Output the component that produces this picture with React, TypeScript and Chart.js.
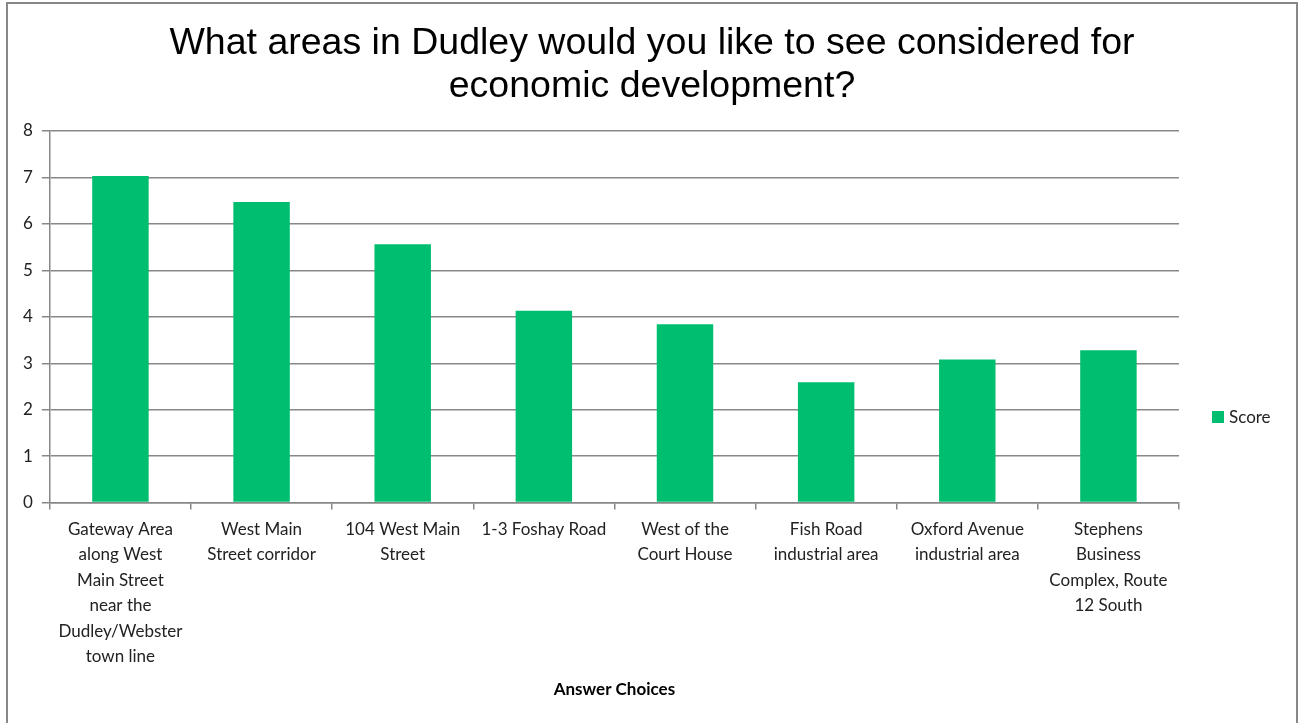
import React, { useEffect, useRef } from "react";
import { Chart, registerables } from "chart.js";

Chart.register(...registerables);

const titleLines = [
  "What areas in Dudley would you like to see considered for",
  "economic development?",
];
const categories: string[][] = [
  ["Gateway Area", "along West", "Main Street", "near the", "Dudley/Webster", "town line"],
  ["West Main", "Street corridor"],
  ["104 West Main", "Street"],
  ["1-3 Foshay Road"],
  ["West of the", "Court House"],
  ["Fish Road", "industrial area"],
  ["Oxford Avenue", "industrial area"],
  ["Stephens", "Business", "Complex, Route", "12 South"],
];
const seriesName = "Score";
const scores = [7.03, 6.47, 5.56, 4.13, 3.84, 2.59, 3.08, 3.28];
const xAxisTitle = "Answer Choices";
const yMin = 0;
const yMax = 8;
const yStep = 1;

const barColor = "#00BE6F";
const gridColor = "#888888";
const titleFont = "'Liberation Sans', Arial, sans-serif";
const labelFont = "Lato, 'Liberation Sans', sans-serif";

const frameAndTitle = {
  id: "frameAndTitle",
  beforeDraw(chart: any) {
    const ctx = chart.ctx;
    ctx.save();
    ctx.fillStyle = "#ffffff";
    ctx.fillRect(0, 0, chart.width, chart.height);
    ctx.strokeStyle = "#878787";
    ctx.lineWidth = 2;
    ctx.strokeRect(7, 3, chart.width - 9, chart.height + 20);
    ctx.restore();
  },
  afterDraw(chart: any) {
    const ctx = chart.ctx;
    ctx.save();
    ctx.fillStyle = "#000000";
    ctx.font = "37.5px " + titleFont;
    ctx.textAlign = "center";
    ctx.textBaseline = "alphabetic";
    ctx.fillText(titleLines[0], 652, 54);
    ctx.fillText(titleLines[1], 652, 97);
    // legend
    const area = chart.chartArea;
    const x = area.right + 33;
    const y = 417;
    ctx.fillStyle = barColor;
    ctx.fillRect(x, y - 6, 12, 12);
    ctx.fillStyle = "#222222";
    ctx.font = "17px " + labelFont;
    ctx.textBaseline = "middle";
    ctx.textAlign = "left";
    ctx.fillText(seriesName, x + 17, y + 1);
    ctx.restore();
  },
};

export default function App() {
  const ref = useRef<HTMLCanvasElement | null>(null);
  useEffect(() => {
    if (!ref.current) return;
    const chart = new Chart(ref.current, {
      type: "bar",
      data: {
        labels: categories,
        datasets: [
          {
            label: seriesName,
            data: scores,
            backgroundColor: barColor,
            borderWidth: 0,
            barPercentage: 0.4,
            categoryPercentage: 1,
          },
        ],
      },
      options: {
        animation: false,
        responsive: false,
        devicePixelRatio: 1,
        layout: { padding: { left: 14, right: 120, top: 131, bottom: 23 } },
        plugins: {
          legend: { display: false },
          tooltip: { enabled: false },
          title: { display: false },
        },
        scales: {
          x: {
            offset: true,
            grid: {
              offset: true,
              drawOnChartArea: false,
              drawTicks: true,
              tickLength: 7,
              color: gridColor,
              lineWidth: 1.5,
            },
            border: { color: gridColor, width: 1.5 },
            ticks: {
              autoSkip: false,
              maxRotation: 0,
              minRotation: 0,
              color: "#222222",
              padding: 7,
              font: { family: labelFont, size: 17, lineHeight: 1.5 },
            },
            title: {
              display: true,
              text: xAxisTitle,
              color: "#000000",
              font: { family: labelFont, size: 17, weight: "bold", lineHeight: 1.2 },
              padding: { top: 3, bottom: 0 },
            },
          },
          y: {
            min: yMin,
            max: yMax,
            grid: {
              color: gridColor,
              lineWidth: 1.5,
              tickLength: 8,
            },
            border: { color: gridColor, width: 1.5 },
            ticks: {
              stepSize: yStep,
              color: "#222222",
              padding: 9,
              font: { family: labelFont, size: 17 },
            },
          },
        },
      },
      plugins: [frameAndTitle],
    });
    return () => chart.destroy();
  }, []);
  return (
    <div style={{ position: "fixed", left: 0, top: 0, width: 1299, height: 723, background: "#ffffff" }}>
      <canvas ref={ref} width={1299} height={723} style={{ display: "block" }} />
    </div>
  );
}
